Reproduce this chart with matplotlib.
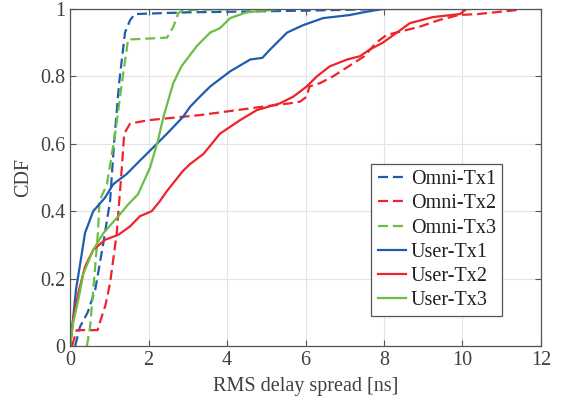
import matplotlib
matplotlib.use("Agg")
import matplotlib.pyplot as plt
from matplotlib.ticker import FormatStrFormatter

plt.rcParams['font.family'] = ['Liberation Serif', 'DejaVu Serif']

# ---- data ----
omni1_x = [0.13, 0.25, 0.45, 0.64, 0.84, 1.02, 1.12, 1.25, 1.40, 1.53, 1.65, 3.0, 6.0, 8.0]
omni1_y = [0.0, 0.056, 0.10, 0.166, 0.30, 0.43, 0.60, 0.78, 0.93, 0.967, 0.985, 0.99, 0.995, 1.0]

omni2_x = [0.05, 0.17, 0.70, 0.76, 0.90, 1.02, 1.19, 1.32, 1.38, 1.53, 2.0, 3.3, 4.9, 5.6, 5.86,
           6.03, 6.1, 6.37, 6.7, 7.1, 7.5, 7.8, 8.07, 8.9, 9.4, 9.9, 10.4, 11.4, 11.5]
omni2_y = [0.0, 0.047, 0.047, 0.07, 0.12, 0.187, 0.335, 0.53, 0.63, 0.66, 0.67, 0.685, 0.71, 0.72, 0.725,
           0.74, 0.77, 0.78, 0.80, 0.83, 0.86, 0.90, 0.923, 0.947, 0.967, 0.982, 0.985, 0.997, 0.997]

omni3_x = [0.43, 0.51, 0.59, 0.71, 0.75, 0.94, 1.15, 1.32, 1.48, 1.6, 2.47, 2.63, 2.76, 2.9, 4.5]
omni3_y = [0.0, 0.056, 0.166, 0.335, 0.43, 0.48, 0.63, 0.78, 0.91, 0.91, 0.915, 0.947, 0.988, 0.997, 1.0]

user1_x = [0.0, 0.05, 0.15, 0.30, 0.38, 0.59, 0.89, 1.10, 1.44, 1.78, 2.04, 2.47, 2.88, 3.06, 3.31,
           3.57, 4.08, 4.59, 4.9, 5.1, 5.53, 5.94, 6.45, 7.13, 7.47, 7.97, 9.8]
user1_y = [0.0, 0.05, 0.166, 0.275, 0.335, 0.40, 0.44, 0.48, 0.51, 0.55, 0.58, 0.63, 0.68, 0.71, 0.74,
           0.77, 0.815, 0.85, 0.855, 0.88, 0.93, 0.952, 0.973, 0.982, 0.99, 1.0, 1.0]

user2_x = [0.0, 0.09, 0.21, 0.38, 0.59, 0.89, 1.23, 1.53, 1.78, 2.08, 2.29, 2.47, 2.88, 3.06, 3.4,
           3.82, 4.33, 4.76, 5.35, 5.69, 6.03, 6.29, 6.62, 7.06, 7.39, 7.64, 7.97, 8.66, 9.25, 9.94,
           10.1, 10.2]
user2_y = [0.0, 0.087, 0.157, 0.235, 0.285, 0.315, 0.33, 0.355, 0.385, 0.40, 0.43, 0.46, 0.52, 0.54, 0.57,
           0.63, 0.67, 0.70, 0.72, 0.74, 0.77, 0.80, 0.83, 0.85, 0.86, 0.88, 0.90, 0.958, 0.976, 0.985,
           1.0, 1.0]

user3_x = [0.0, 0.08, 0.21, 0.34, 0.59, 0.85, 1.23, 1.48, 1.73, 2.04, 2.24, 2.38, 2.63, 2.84, 3.1,
           3.23, 3.57, 3.82, 4.08, 4.5, 5.35]
user3_y = [0.0, 0.07, 0.137, 0.215, 0.285, 0.335, 0.385, 0.42, 0.45, 0.53, 0.61, 0.68, 0.78, 0.83, 0.87,
           0.89, 0.93, 0.943, 0.973, 0.99, 1.0]

labels = ['Omni-Tx1', 'Omni-Tx2', 'Omni-Tx3', 'User-Tx1', 'User-Tx2', 'User-Tx3']
xticks = [0, 2, 4, 6, 8, 10, 12]
yticks = [0, 0.2, 0.4, 0.6, 0.8, 1.0]

blue = '#1f5cb0'
red = '#f0222a'
green = '#6cbd45'
textc = '#404040'

fig = plt.figure(figsize=(5.65, 4.08), dpi=100)
ax = fig.add_axes([0.124, 0.152, 0.8335, 0.826])

dash = (4.5, 2.2)
lw = 1.6
ax.plot(omni1_x, omni1_y, color=blue, lw=lw, ls='--', dashes=dash, label=labels[0])
ax.plot(omni2_x, omni2_y, color=red, lw=lw, ls='--', dashes=dash, label=labels[1])
ax.plot(omni3_x, omni3_y, color=green, lw=lw, ls='--', dashes=dash, label=labels[2])
ax.plot(user1_x, user1_y, color=blue, lw=lw, label=labels[3])
ax.plot(user2_x, user2_y, color=red, lw=lw, label=labels[4])
ax.plot(user3_x, user3_y, color=green, lw=lw, label=labels[5])

ax.set_xlim(0, 12)
ax.set_ylim(0, 1)
ax.set_xticks(xticks)
ax.set_yticks(yticks)
ax.yaxis.set_major_formatter(FormatStrFormatter('%g'))
ax.grid(True, color='#e3e3e3', lw=0.8)
ax.set_axisbelow(True)
ax.tick_params(direction='in', top=True, right=True, length=4, width=0.8,
               colors='#555555', labelsize=14.5, labelcolor=textc)
for s in ax.spines.values():
    s.set_color('#555555')
    s.set_linewidth(0.9)

ax.set_xlabel('RMS delay spread [ns]', fontsize=14.5, color=textc, labelpad=5)
ax.set_ylabel('CDF', fontsize=14.5, color=textc, labelpad=5)

leg = ax.legend(loc='lower right', bbox_to_anchor=(0.917, 0.089), fontsize=14.5,
                frameon=True, fancybox=False, edgecolor='#555555', framealpha=1,
                handlelength=1.4, handletextpad=0.25, labelspacing=0.25, borderpad=0.3,
                borderaxespad=0)
leg.get_frame().set_linewidth(0.9)
for t in leg.get_texts():
    t.set_color('#202020')

fig.savefig('out.png', dpi=100)
